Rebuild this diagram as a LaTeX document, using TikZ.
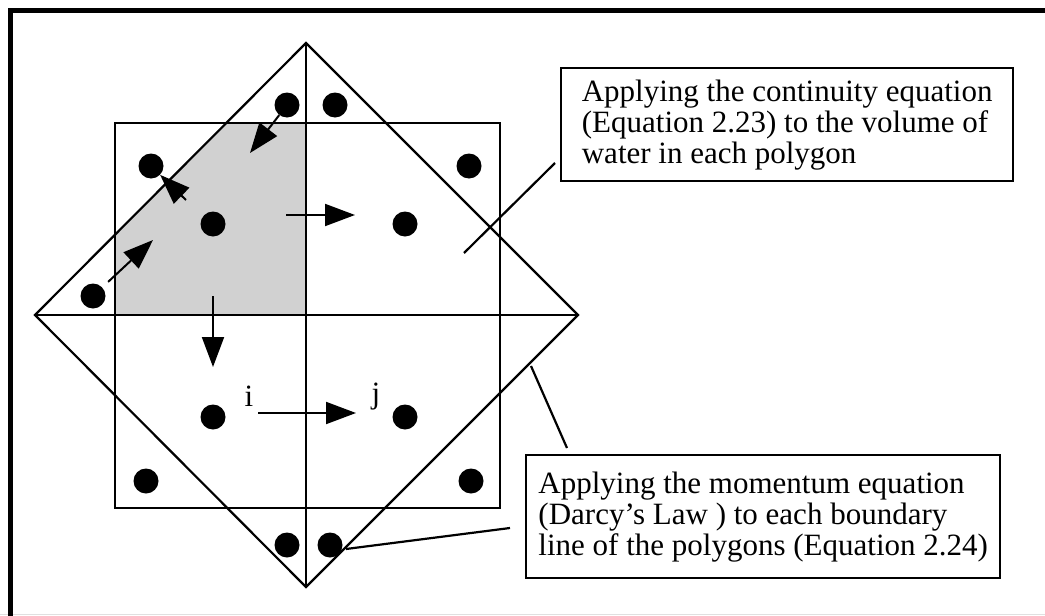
\documentclass[tikz,border=0pt]{standalone}
\usepackage{fontspec}
\setmainfont{Liberation Serif}
\usetikzlibrary{arrows.meta, positioning}

\begin{document}
\begin{tikzpicture}[x=1pt, y=-1pt,
    pt/.style = {circle, fill=black, inner sep=0pt, minimum size=25pt},
    flow/.style = {line width=2pt, -{Triangle[length=30pt, width=22pt]}},
    edge/.style = {line width=2.2pt},
    note/.style = {draw, line width=2.4pt, anchor=north west, inner xsep=6pt, align=left, font=\fontsize{31}{31}\selectfont},
  ]
  \useasboundingbox (0,0) rectangle (1045,616);
  % frame
  \draw[black!12, line width=1.5pt] (0,614.5) -- (1045,614.5);
  \draw[line width=5pt] (10.5,616) -- (10.5,10.5) -- (1045,10.5);

  % corners of the two grids
  \coordinate (top) at (306,43);
  \coordinate (rgt) at (578,315);
  \coordinate (bot) at (306,587);
  \coordinate (lft) at (35,315);
  \coordinate (sqa) at (115,123);
  \coordinate (sqb) at (500,508);

  % shaded polygon
  \fill[black!18] (115,315) -- (115,235) -- (227,123) -- (306,123) -- (306,315) -- cycle;

  \draw[edge] (sqa) rectangle (sqb);
  \draw[edge] (top) -- (rgt) -- (bot) -- (lft) -- cycle;
  \draw[edge] (top) -- (bot);
  \draw[edge] (lft) -- (rgt);

  % nodes
  \node[pt] (p1) at (287,105) {};
  \node[pt] (p2) at (335,105) {};
  \node[pt] (p3) at (151,166) {};
  \node[pt] (p4) at (469,166) {};
  \node[pt] (p5) at (213,224) {};
  \node[pt] (p6) at (405,224) {};
  \node[pt] (p7) at (93,296) {};
  \node[pt] (p8) at (213,417) {};
  \node[pt] (p9) at (405,417) {};
  \node[pt] (p10) at (146,481) {};
  \node[pt] (p11) at (471,481) {};
  \node[pt] (p12) at (287,545) {};
  \node[pt] (p13) at (330,545) {};

  \node[font=\fontsize{31}{31}\selectfont] (lbi) at (249,396) {i};
  \node[font=\fontsize{31}{31}\selectfont] (lbj) at (376,397) {j};

  % flow arrows
  \coordinate (a1s) at (286,215);
  \coordinate (a1e) at (355,215);
  \coordinate (a2s) at (213,296);
  \coordinate (a2e) at (213,367);
  \coordinate (a3s) at (258,413);
  \coordinate (a3e) at (356,413);
  \coordinate (a4e) at (153,240);
  \coordinate (a5s) at (186,200);
  \coordinate (a6e) at (250,153);
  \draw[flow] (a1s) -- (a1e);
  \draw[flow] (a2s) -- (a2e);
  \draw[flow] (a3s) -- (a3e);
  \draw[flow, shorten <=8pt] (p7) -- (a4e);
  \draw[flow] (a5s) -- (p3);
  \draw[flow] (p1) -- (a6e);

  % notes
  \node[note, minimum width=452pt, minimum height=113pt] (cont) at (560,67)
    {Applying the continuity equation\\(Equation 2.23) to the volume of\\water in each polygon};
  \node[note, minimum width=474pt, minimum height=123pt] (mom) at (525,454)
    {Applying the momentum equation\\(Darcy’s Law ) to each boundary\\line of the polygons (Equation 2.24)};

  % leaders
  \coordinate (l1a) at (464,253);
  \coordinate (l1b) at (555,163);
  \coordinate (l2a) at (531,366);
  \coordinate (l2b) at (567,448);
  \coordinate (l3a) at (346,549);
  \coordinate (l3b) at (510,528);
  \draw[edge] (l1a) -- (l1b);
  \draw[edge] (l2a) -- (l2b);
  \draw[edge] (l3a) -- (l3b);
\end{tikzpicture}
\end{document}
